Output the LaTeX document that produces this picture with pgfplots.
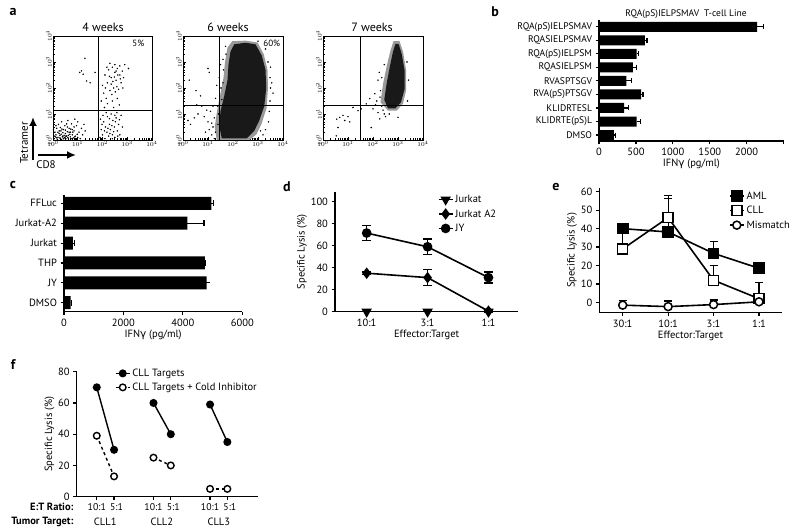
\documentclass[border=0pt]{standalone}
\usepackage{fontspec}
\setmainfont{PT Sans}
\newfontfamily\grk{DejaVu Sans}
\usepackage{pgfplots}
\pgfplotsset{compat=1.18}
\usetikzlibrary{arrows.meta}
\pgfplotsset{
  flow/.style={scale only axis, anchor=south west, xmin=0,xmax=4,ymin=0,ymax=4,
    axis line style={line width=0.9pt},
    xtick={0,1,2,3,4}, ytick={0,1,2,3,4},
    xticklabels={$10^0$,$10^1$,$10^2$,$10^3$,$10^4$},
    yticklabels={$10^0$,$10^1$,$10^2$,$10^3$,$10^4$},
    minor xtick={0.301,0.477,0.602,0.699,0.778,0.845,0.903,0.954,1.301,1.477,1.602,1.699,1.778,1.845,1.903,1.954,2.301,2.477,2.602,2.699,2.778,2.845,2.903,2.954,3.301,3.477,3.602,3.699,3.778,3.845,3.903,3.954},
    minor ytick={0.301,0.477,0.602,0.699,0.778,0.845,0.903,0.954,1.301,1.477,1.602,1.699,1.778,1.845,1.903,1.954,2.301,2.477,2.602,2.699,2.778,2.845,2.903,2.954,3.301,3.477,3.602,3.699,3.778,3.845,3.903,3.954},
    tick align=inside, xtick pos=bottom, ytick pos=left,
    major tick length=3pt, minor tick length=1.5pt,
    every tick/.style={black, line width=0.6pt},
    ticklabel style={font=\fontsize{5.8}{6}\selectfont, inner sep=1pt},
    yticklabel style={rotate=90, anchor=south},
  },
  dots/.style={only marks, mark=*, mark size=0.5pt, black},
  bstyle/.style={scale only axis, anchor=south west, axis lines*=left,
    axis line style={line width=1.5pt},
    every tick/.style={black, line width=1.2pt},
    tick align=outside, major tick length=3.5pt,
    ticklabel style={font=\fontsize{10.5}{11}\selectfont},
    label style={font=\fontsize{10.5}{11}\selectfont},
    /pgf/number format/1000 sep={},
    /pgf/number format/assume math mode=true,
  },
  ebar/.style={error bars/error bar style={line width=1.2pt},
    error bars/error mark options={rotate=90, line width=1.2pt, mark size=#1}},
  leg/.style={legend style={draw=none, fill=none, font=\fontsize{10.5}{11}\selectfont,
    inner sep=0pt, row sep=1.5pt, cells={anchor=west}},
    legend image code/.code={\draw[mark repeat=2,mark phase=2,##1] plot coordinates {(0pt,0pt) (7pt,0pt) (14pt,0pt)};}},
}
\begin{document}
\begin{tikzpicture}
\useasboundingbox (0,0) rectangle (800pt,532pt);

% ---------------- panel labels ----------------
\begin{scope}[every node/.style={font=\bfseries\fontsize{14}{14}\selectfont}]
\node at (13pt,520pt) {a};
\node at (495pt,520pt) {b};
\node at (13pt,347pt) {c};
\node at (287pt,345pt) {d};
\node at (556pt,345pt) {e};
\node at (13pt,167pt) {f};
\end{scope}

% ---------------- panel a ----------------
\node[font=\fontsize{12}{13}\selectfont] at (103pt,505pt) {4 weeks};
\node[font=\fontsize{12}{13}\selectfont] at (228pt,505pt) {6 weeks};
\node[font=\fontsize{12}{13}\selectfont] at (372pt,505pt) {7 weeks};
\draw[-{Latex[length=9pt,width=8pt]}, line width=2.2pt] (33pt,372pt) -- (33pt,415pt);
\draw[-{Latex[length=9pt,width=8pt]}, line width=2.2pt] (38pt,377pt) -- (76pt,377pt);
\node[rotate=90, font=\fontsize{11}{12}\selectfont] at (24pt,389pt) {Tetramer};
\node[font=\fontsize{11}{12}\selectfont] at (46pt,367pt) {CD8};

\begin{axis}[flow, at={(53pt,392pt)}, width=99pt, height=104pt]
\addplot[dots] coordinates {
(0.05,0.05)(0.12,0.2)(0.2,0.1)(0.25,0.35)(0.3,0.05)(0.33,0.22)(0.38,0.12)(0.42,0.4)(0.45,0.08)(0.5,0.25)(0.55,0.15)(0.58,0.5)(0.62,0.05)(0.65,0.3)(0.7,0.12)(0.72,0.42)(0.78,0.2)(0.82,0.08)(0.85,0.35)(0.9,0.15)(0.95,0.55)(1.0,0.1)(1.05,0.3)(1.1,0.05)(1.15,0.45)(1.2,0.2)(0.15,0.45)(0.08,0.3)(0.22,0.6)(0.35,0.7)(0.48,0.55)(0.6,0.75)(0.75,0.62)(0.88,0.8)(1.0,0.7)(1.25,0.6)(0.28,0.18)(0.4,0.28)(0.52,0.05)(0.68,0.22)(0.8,0.3)(0.92,0.03)(0.18,0.02)(0.45,0.18)(0.58,0.32)(0.35,0.02)(0.1,0.12)(0.65,0.45)(0.98,0.22)(1.3,0.35)(0.02,0.4)(0.55,0.62)(0.3,0.48)(0.85,0.5)(0.73,0.05)(0.15,0.08)(0.25,0.25)(0.4,0.15)(0.5,0.38)(0.62,0.18)(0.7,0.3)(0.2,0.3)(0.48,0.1)(0.6,0.1)(0.32,0.35)(0.05,0.15)(0.28,0.08)(0.42,0.05)(0.52,0.15)(0.36,0.42)(0.12,0.55)(0.88,0.12)(0.78,0.4)
(1.9,0.1)(1.95,0.4)(2.0,0.2)(2.05,0.7)(2.1,0.05)(2.12,0.5)(2.18,0.3)(2.2,0.9)(2.25,0.15)(2.28,0.6)(2.32,0.4)(2.35,1.0)(2.4,0.2)(2.42,0.75)(2.48,0.5)(2.5,0.1)(2.55,0.85)(2.6,0.35)(2.65,0.6)(2.7,0.2)(2.75,0.95)(1.92,0.8)(2.02,0.95)(2.15,1.05)(2.3,0.25)(2.38,0.55)(2.45,0.32)(2.52,0.7)(2.58,1.05)(2.08,0.35)(2.22,0.45)(2.62,0.15)(1.98,0.6)(2.68,0.78)(2.4,0.05)(2.8,0.5)(2.28,0.82)(2.5,0.95)
(1.95,1.5)(2.0,2.1)(2.05,1.8)(2.1,2.5)(2.15,1.6)(2.2,2.2)(2.25,2.7)(2.3,1.9)(2.35,2.4)(2.4,2.8)(2.45,2.0)(2.5,2.6)(2.55,2.3)(2.6,2.75)(2.65,1.95)(2.7,2.5)(2.75,2.2)(2.8,2.65)(2.85,2.4)(2.2,1.4)(2.4,1.5)(2.6,1.6)(2.3,2.95)(2.5,2.9)(2.7,2.85)(2.12,2.0)(2.28,2.45)(2.42,2.25)(2.58,2.05)(2.72,2.35)(2.38,1.75)(2.52,1.85)(2.18,2.8)(2.62,2.5)(2.48,2.42)(2.35,2.15)(2.55,2.65)(2.82,2.0)(2.08,1.25)(2.45,1.25)(2.68,1.35)(3.05,2.75)(2.9,2.9)
(1.29,3.14)(1.15,2.66)(1.08,2.6)(1.22,2.53)(1.36,2.27)(1.5,2.2)(1.7,2.6)
};
\addplot[black, line width=0.9pt] coordinates {(1.85,0)(1.85,4)};
\addplot[black, line width=0.9pt] coordinates {(0,1.14)(4,1.14)};
\node[font=\fontsize{9}{10}\selectfont] at (axis cs:3.45,3.7) {5\%};
\end{axis}

\begin{axis}[flow, at={(183pt,392pt)}, width=100pt, height=104pt]
\addplot[fill=black!40, draw=none] coordinates {(1.97,3.8)(1.78,3.55)(1.68,3.0)(1.62,2.4)(1.48,1.7)(1.36,1.1)(1.27,0.5)(1.35,0.0)(2.66,0)(2.94,0.22)(3.14,0.62)(3.34,1.22)(3.4,2.0)(3.38,2.7)(3.23,3.3)(2.98,3.75)(2.5,3.82)} -- cycle;
\addplot[fill=black!90, draw=none] coordinates {(2.05,3.68)(1.9,3.4)(1.82,2.9)(1.78,2.3)(1.65,1.7)(1.5,1.1)(1.45,0.55)(1.55,0.06)(2.55,0.06)(2.85,0.35)(3.05,0.75)(3.25,1.3)(3.33,2.0)(3.3,2.7)(3.15,3.25)(2.9,3.68)(2.5,3.74)} -- cycle;
\addplot[dots] coordinates {
(0.25,2.3)(0.52,1.9)(1.0,2.75)(1.05,2.6)(0.7,1.7)(0.45,0.85)(0.6,1.0)(0.85,0.9)(0.3,0.6)(1.1,1.1)(1.2,0.5)(0.2,0.75)(0.9,0.3)(1.0,0.7)(1.15,0.2)(0.75,1.3)(1.3,1.6)(1.35,2.1)(1.5,2.9)(3.5,2.8)(3.48,1.5)(3.42,0.7)(1.25,0.05)(1.4,0.6)(0.55,1.35)(1.6,3.1)(3.2,0.2)(2.85,0.05)(3.55,2.2)(3.3,3.5)(1.7,3.6)(1.45,2.4)(1.2,1.3)(1.05,0.4)(0.95,1.15)(3.6,1.8)(1.38,1.3)(1.25,0.85)(1.52,2.0)(1.62,2.7)(3.48,2.4)(3.4,3.0)(3.1,0.35)(1.15,0.65)(1.3,0.3)(1.42,1.0)(1.55,1.55)(1.6,2.2)(1.72,3.3)(3.45,1.1)(3.5,2.0)(3.3,0.4)(3.0,3.8)
};
\addplot[black, line width=0.9pt] coordinates {(1.45,0)(1.45,4)};
\addplot[black, line width=0.9pt] coordinates {(0,1.32)(4,1.32)};
\node[font=\fontsize{9}{10}\selectfont] at (axis cs:3.55,3.7) {60\%};
\end{axis}

\begin{axis}[flow, at={(323pt,392pt)}, width=100pt, height=104pt]
\addplot[fill=black!40, draw=none] coordinates {(2.3,1.45)(2.4,2.15)(2.55,2.85)(2.7,3.45)(2.82,3.8)(3.06,3.8)(3.2,3.4)(3.32,2.7)(3.32,1.9)(3.2,1.4)(2.95,1.13)(2.6,1.13)} -- cycle;
\addplot[fill=black!90, draw=none] coordinates {(2.45,1.55)(2.55,2.2)(2.68,2.85)(2.8,3.4)(2.9,3.7)(3.03,3.68)(3.15,3.3)(3.26,2.7)(3.26,1.95)(3.12,1.45)(2.9,1.22)(2.6,1.22)} -- cycle;
\addplot[dots] coordinates {
(2.07,1.78)(1.87,1.59)(1.73,1.39)(1.53,1.2)(1.4,1.13)(0.67,0.87)(0.8,0.95)(0.55,0.8)(0.6,0.48)(0.87,0.75)(1.07,0.7)(1.0,0.9)(0.53,0.16)(1.93,0.48)(2.27,0.81)(3.0,0.87)(2.25,2.6)(2.2,2.3)(2.35,1.3)(2.2,1.05)(2.45,1.0)(2.5,0.9)(2.15,1.5)(2.3,1.9)(2.0,1.2)(1.2,1.25)(2.65,1.0)(3.38,1.5)(3.42,2.3)(2.1,1.35)(2.4,1.15)(2.35,2.4)(2.28,1.65)(2.45,2.9)(3.36,3.0)
};
\addplot[black, line width=0.9pt] coordinates {(1.48,0)(1.48,4)};
\addplot[black, line width=0.9pt] coordinates {(0,1.32)(4,1.32)};
\end{axis}

% ---------------- panel b ----------------
\node[font=\fontsize{9.5}{10}\selectfont] at (686pt,518pt) {RQA(pS)IELPSMAV\ \ T-cell Line};
\begin{axis}[bstyle, at={(599pt,391pt)}, width=184.6pt, height=121pt,
  xbar, bar width=10pt, xmin=0, xmax=2500, ymin=-0.44, ymax=8.5,
  xtick={0,500,1000,1500,2000,2500}, xticklabels={0,500,1000,1500,2000,{}},
  ytick={0,...,8},
  yticklabels={DMSO,KLIDRTE(pS)L,KLIDRTESL,RVA(pS)PTSGV,RVASPTSGV,RQASIELPSM,RQA(pS)IELPSM,RQASIELPSMAV,RQA(pS)IELPSMAV},
  yticklabel style={font=\fontsize{9.6}{10}\selectfont},
  xlabel={IFN{\grk γ} (pg/ml)}, xlabel style={yshift=3pt}]
\addplot[fill=black, draw=none, ebar=2.5pt, error bars/.cd, x dir=plus, x explicit] coordinates {
(200,0) +- (20,0)
(510,1) +- (50,0)
(340,2) +- (60,0)
(570,3) +- (25,0)
(370,4) +- (70,0)
(460,5) +- (50,0)
(510,6) +- (30,0)
(620,7) +- (30,0)
(2140,8) +- (90,0)
};
\end{axis}

% ---------------- panel c ----------------
\begin{axis}[bstyle, at={(64pt,220.3pt)}, width=178.3pt, height=116.7pt,
  xbar, bar width=13pt, xmin=0, xmax=6000, ymin=-0.45, ymax=5.42,
  xtick={0,2000,4000,6000}, ytick={0,...,5},
  yticklabels={DMSO,JY,THP,Jurkat,Jurkat-A2,FFLuc},
  xlabel={IFN{\grk γ} (pg/ml)}, xlabel style={yshift=3pt}]
\addplot[fill=black, draw=none, ebar=3pt, error bars/.cd, x dir=plus, x explicit] coordinates {
(225,0) +- (20,0)
(4800,1) +- (0,0)
(4740,2) +- (20,0)
(300,3) +- (40,0)
(4150,4) +- (560,0)
(4960,5) +- (80,0)
};
\end{axis}

% ---------------- panel d ----------------
\begin{axis}[bstyle, leg, at={(335pt,220.3pt)}, width=183.3pt, height=119.9pt,
  xmin=-0.52, xmax=2.49, ymin=0, ymax=109, clip=false,
  xtick={0,1,2}, xticklabels={10:1,3:1,1:1}, ytick={0,20,...,100},
  xlabel={Effector:Target}, ylabel={Specific Lysis (\%)},
  xlabel style={yshift=3pt}, ylabel style={yshift=-3pt},
  legend style={at={(0.56,0.99)}, anchor=north west}]
\addplot[black, line width=1.6pt, mark=triangle*, mark size=4.5pt, mark options={rotate=180}] coordinates {(0,0)(1,0)(2,0)};
\addlegendentry{Jurkat}
\addplot[black, line width=1.6pt, mark=diamond*, mark size=4.5pt, ebar=4.5pt, error bars/.cd, y dir=both, y explicit] coordinates {(0,35) +- (0,1) (1,31) +- (0,7) (2,0.5) +- (0,1)};
\addlegendentry{Jurkat A2}
\addplot[black, line width=1.6pt, mark=*, mark size=4pt, ebar=4.5pt, error bars/.cd, y dir=both, y explicit] coordinates {(0,71.5) +- (0,6.5) (1,59) +- (0,7) (2,31) +- (0,5)};
\addlegendentry{JY}
\end{axis}

% ---------------- panel e ----------------
\begin{axis}[bstyle, leg, at={(599.3pt,219.3pt)}, width=182.4pt, height=124.4pt,
  xmin=-0.515, xmax=3.5, ymin=-5.6, ymax=61.9, clip=false,
  xtick={0,1,2,3}, xticklabels={30:1,10:1,3:1,1:1}, ytick={0,10,...,60},
  xlabel={Effector:Target}, ylabel={Specific Lysis (\%)},
  xlabel style={yshift=3pt}, ylabel style={yshift=-3pt},
  legend style={at={(0.71,0.99)}, anchor=north west}]
\addplot[black, line width=1.6pt, mark=square*, mark size=5pt, ebar=4pt, error bars/.cd, y dir=plus, y explicit] coordinates {(0,40) +- (0,3) (1,38.2) +- (0,18) (2,26.6) +- (0,6.6) (3,18.5) +- (0,0)};
\addlegendentry{AML}
\addplot[black, line width=1.6pt, mark=square*, mark size=5pt, mark options={fill=white, line width=1.5pt}, ebar=4pt, error bars/.cd, y dir=plus, y explicit] coordinates {(0,29) +- (0,12) (1,46) +- (0,12) (2,12) +- (0,8) (3,2) +- (0,9)};
\addlegendentry{CLL}
\addplot[black, line width=1.6pt, mark=*, mark size=4pt, mark options={fill=white, line width=1.5pt}, ebar=4pt, error bars/.cd, y dir=plus, y explicit] coordinates {(0,-1.5) +- (0,2.5) (1,-2.3) +- (0,3) (2,-1.2) +- (0,2.5) (3,0.3) +- (0,1)};
\addlegendentry{Mismatch}
\end{axis}

% ---------------- panel f ----------------
\begin{axis}[bstyle, leg, at={(76.7pt,35.3pt)}, width=181.6pt, height=125pt,
  xmin=-1.16, xmax=9.34, ymin=0, ymax=80, clip=false,
  xtick={0,1,3.28,4.28,6.55,7.55},
  xticklabels={10:1\hspace{2pt},\hspace{5pt}5:1,10:1\hspace{2pt},\hspace{5pt}5:1,10:1\hspace{2pt},\hspace{5pt}5:1},
  xticklabel style={font=\fontsize{9.8}{10}\selectfont},
  ytick={0,20,...,80},
  ylabel={Specific Lysis (\%)}, ylabel style={yshift=-3pt},
  legend style={at={(0.21,1.04)}, anchor=north west, row sep=1pt}]
\addplot[black, line width=1.4pt, mark=*, mark size=3.3pt] coordinates {(0,70)(1,30)};
\addlegendentry{CLL Targets}
\addplot[black, line width=1.4pt, dashed, mark=*, mark size=3.3pt, mark options={solid, fill=white, line width=1.4pt}] coordinates {(0,39)(1,13)};
\addlegendentry{CLL Targets + Cold Inhibitor}
\addplot[black, line width=1.4pt, mark=*, mark size=3.3pt, forget plot] coordinates {(3.28,60)(4.28,40)};
\addplot[black, line width=1.4pt, dashed, mark=*, mark size=3.3pt, mark options={solid, fill=white, line width=1.4pt}, forget plot] coordinates {(3.28,25)(4.28,20)};
\addplot[black, line width=1.4pt, mark=*, mark size=3.3pt, forget plot] coordinates {(6.55,59)(7.55,35)};
\addplot[black, line width=1.4pt, dashed, mark=*, mark size=3.3pt, mark options={solid, fill=white, line width=1.4pt}, forget plot] coordinates {(6.55,5)(7.55,5)};
\end{axis}
\node[font=\bfseries\fontsize{10.5}{11}\selectfont, anchor=east] at (77pt,25pt) {E:T Ratio:};
\node[font=\bfseries\fontsize{10.5}{11}\selectfont, anchor=east] at (77pt,10.5pt) {Tumor Target:};
\node[font=\fontsize{10.5}{11}\selectfont] at (105.2pt,10.5pt) {CLL1};
\node[font=\fontsize{10.5}{11}\selectfont] at (161.8pt,10.5pt) {CLL2};
\node[font=\fontsize{10.5}{11}\selectfont] at (218.8pt,10.5pt) {CLL3};
\end{tikzpicture}
\end{document}
